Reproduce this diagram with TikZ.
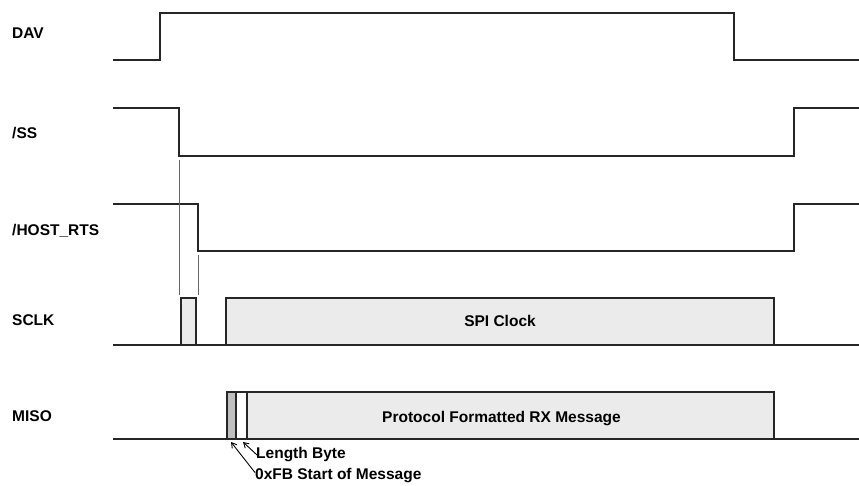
\documentclass[tikz,border=0pt]{standalone}
\usepackage{fontspec}
\setmainfont{Liberation Sans}
\usetikzlibrary{arrows.meta}

\begin{document}
\begin{tikzpicture}[x=1pt, y=-1pt,
  sig/.style={draw=black!85, line width=1.3pt, line join=miter},
  burst/.style={draw=black!85, line width=1.3pt, fill=black!8},
  guide/.style={draw=black!60, line width=0.9pt},
  lbl/.style={font=\fontsize{15.5}{18}\selectfont\bfseries, inner sep=0pt},
  ptr/.style={draw=black, line width=0.9pt, {Straight Barb[length=5pt,width=6pt]}-}]
  \useasboundingbox (0,0) rectangle (859,485);
  % signal names
  \node[lbl, anchor=west] (dav) at (12,33.5) {DAV};
  \node[lbl, anchor=west] (ss) at (12,133) {/SS};
  \node[lbl, anchor=west] (rts) at (12,230.5) {/HOST\_RTS};
  \node[lbl, anchor=west] (sclk) at (12,320.5) {SCLK};
  \node[lbl, anchor=west] (miso) at (12,416) {MISO};
  % waveforms
  \draw[sig] (113,60) -- (160,60) -- (160,13) -- (734,13) -- (734,60) -- (859,60);
  \draw[sig] (113,108) -- (179,108) -- (179,156) -- (794,156) -- (794,108) -- (859,108);
  \draw[sig] (113,204) -- (198,204) -- (198,251) -- (794,251) -- (794,204) -- (859,204);
  \draw[guide] (179,160) -- (179,295);
  \draw[guide] (198,255) -- (198,295);
  % SCLK
  \draw[sig] (113,345) -- (859,345);
  \draw[burst] (181,298) rectangle (196,345);
  \draw[burst] (226,298) rectangle (774,345);
  \node[lbl] (clk) at (500,321) {SPI Clock};
  % MISO
  \draw[sig] (113,439) -- (859,439);
  \draw[burst] (247,392) rectangle (774,439);
  \draw[burst, fill=black!25] (227,392) rectangle (236,439);
  \draw[burst, fill=white] (236,392) rectangle (247,439);
  \node[lbl] (msg) at (501.5,418.5) {Protocol Formatted RX Message};
  \coordinate (hdr) at (231,442);
  \coordinate (len) at (243,442);
  \node[lbl, anchor=west] (lenlbl) at (256,455) {Length Byte};
  \node[lbl, anchor=west] (hdrlbl) at (255,476) {0xFB Start of Message};
  \draw[ptr] (len) -- ([xshift=1pt]lenlbl.west);
  \draw[ptr] (hdr) -- ([yshift=-4pt]hdrlbl.north west);
\end{tikzpicture}
\end{document}
